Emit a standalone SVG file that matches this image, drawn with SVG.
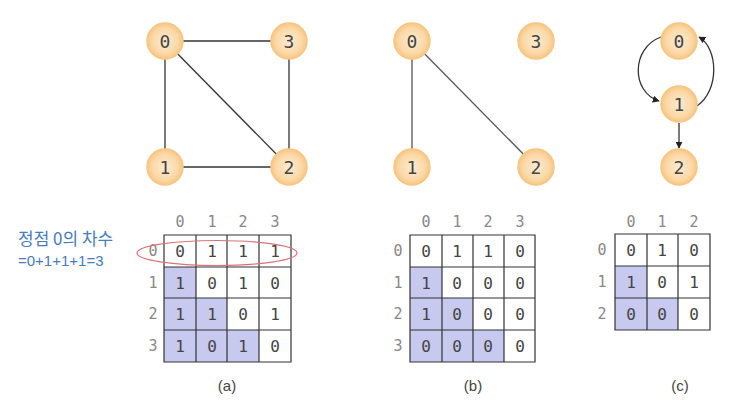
<svg xmlns="http://www.w3.org/2000/svg" width="731" height="409" viewBox="0 0 731 409">
<style>
.node circle{fill:url(#ng);stroke:#f6c682;stroke-width:1.5}
.node text{font-family:"DejaVu Sans Mono",monospace;font-size:18px;fill:#444;text-anchor:middle;dominant-baseline:central}
.edge{stroke:#333;stroke-width:1.3;fill:none}
.edgeb{stroke:#555;stroke-width:1.3;fill:none}
.grid{stroke:#333;stroke-width:1.2;fill:none}
.shade{fill:#c7c9ef}
.cell{font-family:"DejaVu Sans Mono",monospace;font-size:16px;fill:#444;text-anchor:middle;dominant-baseline:central}
.hdr{font-family:"DejaVu Sans Mono",monospace;font-size:15px;fill:#888;text-anchor:middle;dominant-baseline:central}
.cap{font-family:"Liberation Sans",Arial,sans-serif;font-size:15px;fill:#444;text-anchor:middle}
.note{fill:#4a7bbd}
</style>
<defs>
<radialGradient id="ng" cx="0.5" cy="0.5" r="0.5">
<stop offset="0" stop-color="#fdebd2"/>
<stop offset="0.7" stop-color="#fbd9a8"/>
<stop offset="1" stop-color="#f8c685"/>
</radialGradient>
<marker id="arr" viewBox="0 0 10 10" refX="9" refY="5" markerWidth="7" markerHeight="7" orient="auto" markerUnits="userSpaceOnUse">
<path d="M0,0 L10,5 L0,10 z" fill="#222"/>
</marker>
</defs>

<g id="connectors">
<line class="edge" x1="165" y1="41" x2="289" y2="41"/>
<line class="edge" x1="165" y1="41" x2="165" y2="167"/>
<line class="edge" x1="165" y1="41" x2="289" y2="167"/>
<line class="edge" x1="289" y1="41" x2="289" y2="167"/>
<line class="edge" x1="165" y1="167" x2="289" y2="167"/>
<line class="edgeb" x1="412" y1="41" x2="412" y2="167"/>
<line class="edgeb" x1="412" y1="41" x2="536" y2="167"/>
<path class="edge" d="M661,37 C631,48 631,92 659,101" marker-end="url(#arr)"/>
<path class="edge" d="M697,106 C720,90 718,48 699,37" marker-end="url(#arr)"/>
<line class="edge" x1="679" y1="123" x2="679" y2="148" marker-end="url(#arr)"/>
</g>

<g id="a0" class="node"><circle cx="165" cy="41" r="18"/><text x="165" y="41">0</text></g>
<g id="a3" class="node"><circle cx="289" cy="41" r="18"/><text x="289" y="41">3</text></g>
<g id="a1" class="node"><circle cx="165" cy="167" r="18"/><text x="165" y="167">1</text></g>
<g id="a2" class="node"><circle cx="289" cy="167" r="18"/><text x="289" y="167">2</text></g>

<g id="b0" class="node"><circle cx="412" cy="41" r="18"/><text x="412" y="41">0</text></g>
<g id="b3" class="node"><circle cx="536" cy="41" r="18"/><text x="536" y="41">3</text></g>
<g id="b1" class="node"><circle cx="412" cy="167" r="18"/><text x="412" y="167">1</text></g>
<g id="b2" class="node"><circle cx="536" cy="167" r="18"/><text x="536" y="167">2</text></g>

<g id="c0" class="node"><circle cx="679" cy="41" r="18"/><text x="679" y="41">0</text></g>
<g id="c1" class="node"><circle cx="679" cy="104" r="18"/><text x="679" y="104">1</text></g>
<g id="c2" class="node"><circle cx="679" cy="167" r="18"/><text x="679" y="167">2</text></g>

<g id="note">
<text class="note" x="18" y="245" font-size="17" font-family="'Noto Sans CJK KR','Liberation Sans',sans-serif">정점 0의 차수</text>
<text class="note" x="18" y="266" font-size="15" font-family="'Liberation Sans',Arial,sans-serif">=0+1+1+1=3</text>
</g>

<g id="matrixA">
<rect class="shade" x="164" y="267" width="32" height="95"/>
<rect class="shade" x="196" y="298" width="31" height="64"/>
<rect class="shade" x="227" y="330" width="32" height="32"/>
<path class="grid" d="M164,235 H291 V362 H164 Z M164,267 H291 M164,298 H291 M164,330 H291 M196,235 V362 M227,235 V362 M259,235 V362"/>
<text class="hdr" x="180" y="222">0</text><text class="hdr" x="212" y="222">1</text><text class="hdr" x="243" y="222">2</text><text class="hdr" x="275" y="222">3</text>
<text class="hdr" x="153" y="251">0</text><text class="hdr" x="153" y="283">1</text><text class="hdr" x="153" y="314">2</text><text class="hdr" x="153" y="346">3</text>
<text class="cell" x="180" y="251">0</text><text class="cell" x="212" y="251">1</text><text class="cell" x="243" y="251">1</text><text class="cell" x="275" y="251">1</text>
<text class="cell" x="180" y="283">1</text><text class="cell" x="212" y="283">0</text><text class="cell" x="243" y="283">1</text><text class="cell" x="275" y="283">0</text>
<text class="cell" x="180" y="314">1</text><text class="cell" x="212" y="314">1</text><text class="cell" x="243" y="314">0</text><text class="cell" x="275" y="314">1</text>
<text class="cell" x="180" y="346">1</text><text class="cell" x="212" y="346">0</text><text class="cell" x="243" y="346">1</text><text class="cell" x="275" y="346">0</text>
<ellipse cx="217" cy="253" rx="80" ry="12.5" fill="none" stroke="#d9727a" stroke-width="1.2"/>
</g>

<g id="matrixB">
<rect class="shade" x="410" y="267" width="32" height="95"/>
<rect class="shade" x="442" y="298" width="31" height="64"/>
<rect class="shade" x="473" y="330" width="31" height="32"/>
<path class="grid" d="M410,235 H535 V362 H410 Z M410,267 H535 M410,298 H535 M410,330 H535 M442,235 V362 M473,235 V362 M504,235 V362"/>
<text class="hdr" x="426" y="222">0</text><text class="hdr" x="457" y="222">1</text><text class="hdr" x="488" y="222">2</text><text class="hdr" x="520" y="222">3</text>
<text class="hdr" x="398" y="251">0</text><text class="hdr" x="398" y="283">1</text><text class="hdr" x="398" y="314">2</text><text class="hdr" x="398" y="346">3</text>
<text class="cell" x="426" y="251">0</text><text class="cell" x="457" y="251">1</text><text class="cell" x="488" y="251">1</text><text class="cell" x="520" y="251">0</text>
<text class="cell" x="426" y="283">1</text><text class="cell" x="457" y="283">0</text><text class="cell" x="488" y="283">0</text><text class="cell" x="520" y="283">0</text>
<text class="cell" x="426" y="314">1</text><text class="cell" x="457" y="314">0</text><text class="cell" x="488" y="314">0</text><text class="cell" x="520" y="314">0</text>
<text class="cell" x="426" y="346">0</text><text class="cell" x="457" y="346">0</text><text class="cell" x="488" y="346">0</text><text class="cell" x="520" y="346">0</text>
</g>

<g id="matrixC">
<rect class="shade" x="615" y="266" width="32" height="64"/>
<rect class="shade" x="647" y="298" width="31" height="32"/>
<path class="grid" d="M615,234 H710 V330 H615 Z M615,266 H710 M615,298 H710 M647,234 V330 M678,234 V330"/>
<text class="hdr" x="631" y="222">0</text><text class="hdr" x="662" y="222">1</text><text class="hdr" x="694" y="222">2</text>
<text class="hdr" x="602" y="250">0</text><text class="hdr" x="602" y="282">1</text><text class="hdr" x="602" y="314">2</text>
<text class="cell" x="631" y="250">0</text><text class="cell" x="662" y="250">1</text><text class="cell" x="694" y="250">0</text>
<text class="cell" x="631" y="282">1</text><text class="cell" x="662" y="282">0</text><text class="cell" x="694" y="282">1</text>
<text class="cell" x="631" y="314">0</text><text class="cell" x="662" y="314">0</text><text class="cell" x="694" y="314">0</text>
</g>

<g id="captions">
<text class="cap" x="227" y="391">(a)</text>
<text class="cap" x="473" y="391">(b)</text>
<text class="cap" x="680" y="391">(c)</text>
</g>
</svg>
